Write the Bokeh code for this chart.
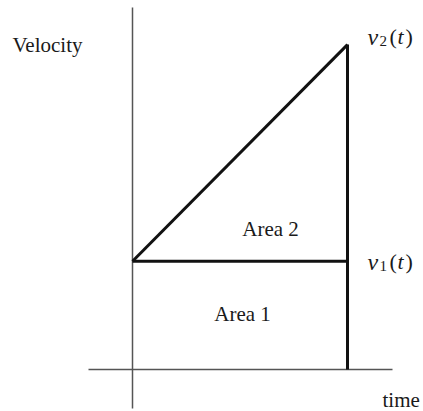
from bokeh.plotting import figure
from bokeh.models import Label
from bokeh.embed import file_html
from bokeh.resources import INLINE

# ---- data ----
time_pts = [0.0, 1.0]          # t start, t end
v1 = 1.0                       # constant velocity v1(t)
v2_start, v2_end = 1.0, 3.0    # v2(t) rises linearly
area_labels = ["Area 1", "Area 2"]
axis_labels = ["Velocity", "time"]

# ---- layout (pixels) ----
W, H = 423, 411
x0_px, px_per_t = 132, 215
y0_px, px_per_v = 42, 108.3

p = figure(width=W, height=H, output_backend="svg", toolbar_location=None,
           x_range=(-x0_px / px_per_t, (W - x0_px) / px_per_t),
           y_range=(-y0_px / px_per_v, (H - y0_px) / px_per_v),
           min_border=0)
p.axis.visible = False
p.grid.visible = False
p.outline_line_color = None
p.background_fill_color = "white"
p.border_fill_color = "white"

# axes (thin gray lines)
axis_col = "#555555"
p.segment(x0=[0], y0=[(-39) / px_per_v], x1=[0], y1=[362 / px_per_v],
          line_color=axis_col, line_width=1.5)
p.segment(x0=[-44 / px_per_t], y0=[0], x1=[260 / px_per_t], y1=[0],
          line_color=axis_col, line_width=1.5)

# triangle / rectangle outline
blk = "#111111"
p.line(x=time_pts, y=[v1, v1], line_color=blk, line_width=3)
p.line(x=time_pts, y=[v2_start, v2_end], line_color=blk, line_width=3)
p.line(x=[time_pts[1], time_pts[1]], y=[0, v2_end], line_color=blk, line_width=3)

FONT = "Liberation Serif"
txt_col = "#1a1a1a"
DY = 6  # baseline correction

def lab(text, x, Y, align="left", size=21, style="normal"):
    # Y = baseline measured from the top of the picture
    p.add_layout(Label(x=x, y=H - Y + DY, x_units="screen", y_units="screen", text=text,
                       text_font=FONT, text_font_size=f"{size}px",
                       text_font_style=style, text_color=txt_col,
                       text_align=align, text_baseline="alphabetic"))

lab(axis_labels[0], 12, 50)
lab(axis_labels[1], 382, 405)
lab(area_labels[1], 270, 234, align="center")
lab(area_labels[0], 242, 319, align="center")

def vlabel(sub, x, Y):
    lab("v", x, Y, style="italic", size=24)
    lab(sub, x + 12, Y + 4, size=15)
    lab("(", x + 22, Y, size=22)
    lab("t", x + 30, Y, style="italic", size=22)
    lab(")", x + 38, Y, size=22)

vlabel("2", 367, 42)
vlabel("1", 367, 267)

open("out.html", "w").write(file_html(p, INLINE))
